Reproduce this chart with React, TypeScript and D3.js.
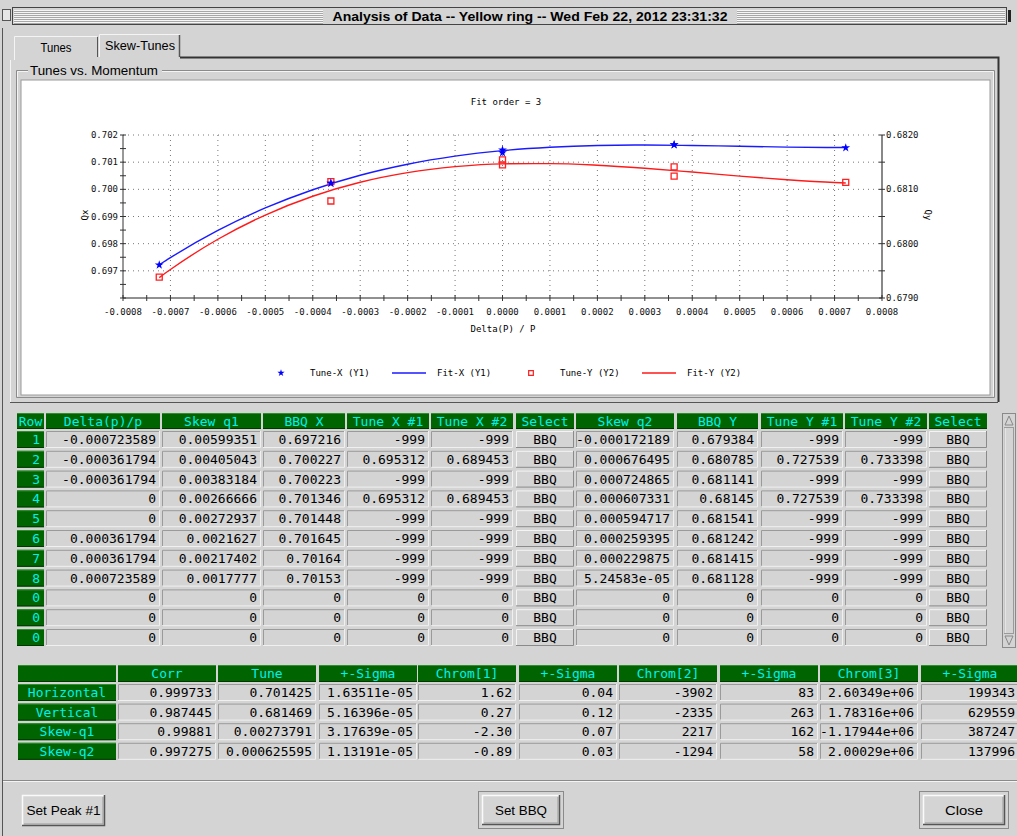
import { useEffect } from 'react';
import * as d3 from 'd3';

const W = 1017;
const H = 836;
const BG = '#d4d4d4';
const GREEN = '#006400';
const CYAN = '#00f0f0';
const MONO = '"DejaVu Sans Mono", "Liberation Mono", monospace';
const SANS = '"Liberation Sans", Arial, sans-serif';

// ---- scan table (rows 1..8 measured, three empty rows) ----
const rowLabels = ['1', '2', '3', '4', '5', '6', '7', '8', '0', '0', '0'];
const deltaP = [-0.000723589, -0.000361794, -0.000361794, 0, 0, 0.000361794, 0.000361794, 0.000723589, 0, 0, 0];
const skewQ1 = [0.00599351, 0.00405043, 0.00383184, 0.00266666, 0.00272937, 0.0021627, 0.00217402, 0.0017777, 0, 0, 0];
const bbqX = [0.697216, 0.700227, 0.700223, 0.701346, 0.701448, 0.701645, 0.70164, 0.70153, 0, 0, 0];
const tuneX1 = [-999, 0.695312, -999, 0.695312, -999, -999, -999, -999, 0, 0, 0];
const tuneX2 = [-999, 0.689453, -999, 0.689453, -999, -999, -999, -999, 0, 0, 0];
const skewQ2 = [-0.000172189, 0.000676495, 0.000724865, 0.000607331, 0.000594717, 0.000259395, 0.000229875, 5.24583e-5, 0, 0, 0];
const bbqY = [0.679384, 0.680785, 0.681141, 0.68145, 0.681541, 0.681242, 0.681415, 0.681128, 0, 0, 0];
const tuneY1 = [-999, 0.727539, -999, 0.727539, -999, -999, -999, -999, 0, 0, 0];
const tuneY2 = [-999, 0.733398, -999, 0.733398, -999, -999, -999, -999, 0, 0, 0];
const nMeasured = 8;

const scanHeaders = ['Row', 'Delta(p)/p', 'Skew q1', 'BBQ X', 'Tune X #1', 'Tune X #2', 'Select',
  'Skew q2', 'BBQ Y', 'Tune Y #1', 'Tune Y #2', 'Select'];

// ---- fit curves ----
const fitDelta = [-0.000723589, -0.0007, -0.0006, -0.0005, -0.0004, -0.0003, -0.0002, -0.0001, 0,
  0.0001, 0.0002, 0.0003, 0.0004, 0.0005, 0.0006, 0.0007, 0.000723589];
const fitX = [0.697224, 0.697486, 0.698486, 0.699314, 0.699986, 0.700518, 0.700924, 0.701221, 0.701425,
  0.701551, 0.701614, 0.70163, 0.701615, 0.701585, 0.701555, 0.70154, 0.70154];
const fitY = [0.679375, 0.679524, 0.680081, 0.680527, 0.680873, 0.68113, 0.681307, 0.681417, 0.681469,
  0.681474, 0.681444, 0.681388, 0.681318, 0.681243, 0.681176, 0.681125, 0.681117];

// ---- axes ----
const xTicks = [-0.0008, -0.0007, -0.0006, -0.0005, -0.0004, -0.0003, -0.0002, -0.0001, 0,
  0.0001, 0.0002, 0.0003, 0.0004, 0.0005, 0.0006, 0.0007, 0.0008];
const y1Ticks = [0.697, 0.698, 0.699, 0.7, 0.701, 0.702];
const y2Ticks = [0.679, 0.68, 0.681, 0.682];

// ---- fit results table ----
const fitHeaders = ['', 'Corr', 'Tune', '+-Sigma', 'Chrom[1]', '+-Sigma', 'Chrom[2]', '+-Sigma', 'Chrom[3]', '+-Sigma'];
const fitRows = ['Horizontal', 'Vertical', 'Skew-q1', 'Skew-q2'];
const fitCorr = [0.999733, 0.987445, 0.99881, 0.997275];
const fitTune = [0.701425, 0.681469, 0.00273791, 0.000625595];
const fitTuneSigma = [1.63511e-5, 5.16396e-5, 3.17639e-5, 1.13191e-5];
const chrom1 = [1.62, 0.27, -2.3, -0.89];
const chrom1Sigma = [0.04, 0.12, 0.07, 0.03];
const chrom2 = [-3902, -2335, 2217, -1294];
const chrom2Sigma = [83, 263, 162, 58];
const chrom3 = [2.60349e6, 1.78316e6, -1.17944e6, 2.00029e6];
const chrom3Sigma = [199343, 629559, 387247, 137996];

// printf("%g")
const fmtG = (v: number) => {
  if (v === 0) return '0';
  const e = Math.floor(Math.log10(Math.abs(v)));
  if (e < -4 || e >= 6) {
    const [m, ex] = v.toExponential(5).split('e');
    const mm = m.includes('.') ? m.replace(/0+$/, '').replace(/\.$/, '') : m;
    const n = parseInt(ex, 10);
    return `${mm}e${n < 0 ? '-' : '+'}${String(Math.abs(n)).padStart(2, '0')}`;
  }
  let s = v.toPrecision(6);
  if (s.includes('.')) s = s.replace(/0+$/, '').replace(/\.$/, '');
  return s;
};
const f2 = (v: number) => v.toFixed(2);
const f0 = (v: number) => v.toFixed(0);

type CellKind = 'head' | 'label' | 'data' | 'button';

const Cell = ({ x, y, w, h, text, kind, align = 'end' }: {
  x: number; y: number; w: number; h: number; text: string; kind: CellKind; align?: 'end' | 'middle';
}) => {
  const green = kind === 'head' || kind === 'label';
  const tx = align === 'middle' ? x + w / 2 : x + w - 4;
  return (
    <g>
      <rect x={x} y={y} width={w} height={h} fill={green ? GREEN : BG} />
      {green ? (
        <>
          <line x1={x} x2={x + w} y1={y + 0.5} y2={y + 0.5} stroke="#2f8f2f" />
          <line x1={x} x2={x + w} y1={y + h - 0.5} y2={y + h - 0.5} stroke="#003800" />
        </>
      ) : kind === 'button' ? (
        <>
          <path d={`M${x + 0.5},${y + h} V${y + 0.5} H${x + w}`} fill="none" stroke="#f4f4f4" />
          <path d={`M${x},${y + h - 0.5} H${x + w - 0.5} V${y}`} fill="none" stroke="#8a8a8a" />
        </>
      ) : (
        <>
          <path d={`M${x + 0.5},${y + h} V${y + 0.5} H${x + w}`} fill="none" stroke="#9a9a9a" />
          <path d={`M${x},${y + h - 0.5} H${x + w - 0.5} V${y}`} fill="none" stroke="#f0f0f0" />
        </>
      )}
      <text x={tx} y={y + h / 2 + 4.5} textAnchor={align} fontFamily={MONO} fontSize={13}
        fill={green ? CYAN : '#000'}>{text}</text>
    </g>
  );
};

const Button = ({ x, y, w, h, label, len, isDefault }: {
  x: number; y: number; w: number; h: number; label: string; len: number; isDefault?: boolean;
}) => (
  <g>
    {isDefault && (
      <rect x={x - 3.5} y={y - 3.5} width={w + 7} height={h + 7} fill="none" stroke="#8a8a8a" />
    )}
    <rect x={x} y={y} width={w} height={h} fill={BG} />
    <path d={`M${x + 0.5},${y + h} V${y + 0.5} H${x + w}`} fill="none" stroke="#fafafa" strokeWidth={1.5} />
    <path d={`M${x},${y + h - 0.5} H${x + w - 0.5} V${y}`} fill="none" stroke="#555" strokeWidth={1.5} />
    <path d={`M${x + 2},${y + h - 2} H${x + w - 2} V${y + 2}`} fill="none" stroke="#9a9a9a" />
    <text x={x + w / 2} y={y + h / 2 + 4.5} textAnchor="middle" fontFamily={SANS} fontSize={13}
      textLength={len} lengthAdjust="spacingAndGlyphs" fill="#000">{label}</text>
  </g>
);

const Chart = () => {
  const x = d3.scaleLinear().domain([-0.0008, 0.0008]).range([123, 882]);
  const y1 = d3.scaleLinear().domain([0.696, 0.702]).range([298, 135]);
  const y2 = d3.scaleLinear().domain([0.679, 0.682]).range([298, 135]);
  const [top, bottom] = [y1.range()[1], y1.range()[0]];
  const [left, right] = x.range();

  const fitXPath = d3.line<number>().x((_, i) => x(fitDelta[i])).y((d) => y1(d)).curve(d3.curveMonotoneX)(fitX) || '';
  const fitYPath = d3.line<number>().x((_, i) => x(fitDelta[i])).y((d) => y2(d)).curve(d3.curveMonotoneX)(fitY) || '';
  const star = d3.symbol().type(d3.symbolStar).size(24)() || '';
  const starSmall = d3.symbol().type(d3.symbolStar).size(16)() || '';
  const square = d3.symbol().type(d3.symbolSquare).size(36)() || '';

  const xMinor = d3.range(-0.0008, 0.00081, 0.00005);
  const y1Minor = d3.range(0.696, 0.70201, 0.0005);
  const y2Minor = d3.range(0.679, 0.68201, 0.0005);
  const pts = d3.range(nMeasured);

  return (
    <g>
      <text x={506} y={105} textAnchor="middle" fontFamily={MONO} fontSize={9} fill="#000">Fit order = 3</text>
      {/* grid */}
      {xTicks.slice(1, -1).map((t) => (
        <line key={`gx${t}`} x1={x(t)} x2={x(t)} y1={top} y2={bottom} stroke="#777" strokeDasharray="1,4" />
      ))}
      {y1Ticks.map((t) => (
        <line key={`gy${t}`} x1={left} x2={right} y1={y1(t)} y2={y1(t)} stroke="#777" strokeDasharray="1,4" />
      ))}
      {/* axes */}
      <line x1={left} x2={left} y1={top} y2={bottom} stroke="#333" />
      <line x1={right} x2={right} y1={top} y2={bottom} stroke="#888" strokeWidth={2} />
      <line x1={left} x2={right} y1={bottom} y2={bottom} stroke="#222" />
      {xMinor.map((t) => (
        <line key={`xt${t}`} x1={x(t)} x2={x(t)} y1={bottom - 3} y2={bottom + 3} stroke="#333" />
      ))}
      {y1Minor.map((t) => (
        <line key={`y1t${t}`} x1={left - 3} x2={left + 3} y1={y1(t)} y2={y1(t)} stroke="#333" />
      ))}
      {y2Minor.map((t) => (
        <line key={`y2t${t}`} x1={right - 3} x2={right + 3} y1={y2(t)} y2={y2(t)} stroke="#333" />
      ))}
      {xTicks.map((t) => (
        <text key={`xl${t}`} x={x(t)} y={bottom + 17} textAnchor="middle" fontFamily={MONO} fontSize={9} fill="#111">
          {t.toFixed(4)}
        </text>
      ))}
      {y1Ticks.map((t) => (
        <text key={`y1l${t}`} x={left - 5} y={y1(t) + 3} textAnchor="end" fontFamily={MONO} fontSize={9} fill="#111">
          {t.toFixed(3)}
        </text>
      ))}
      {y2Ticks.map((t) => (
        <text key={`y2l${t}`} x={right + 4} y={y2(t) + 3} fontFamily={MONO} fontSize={9} fill="#111">
          {t.toFixed(4)}
        </text>
      ))}
      <text x={503} y={332} textAnchor="middle" fontFamily={MONO} fontSize={9} fill="#000">Delta(P) / P</text>
      <text transform="translate(88,215) rotate(-90)" textAnchor="middle" fontFamily={MONO} fontSize={9} fill="#000">Qx</text>
      <text transform="translate(925,215) rotate(90)" textAnchor="middle" fontFamily={MONO} fontSize={9} fill="#000">Qy</text>

      {/* fits and measurements */}
      <path d={fitYPath} fill="none" stroke="#ff1a1a" strokeWidth={1.4} />
      <path d={fitXPath} fill="none" stroke="#1a1aff" strokeWidth={1.4} />
      {pts.map((i) => (
        <path key={`sq${i}`} d={square} transform={`translate(${x(deltaP[i])},${y2(bbqY[i])})`}
          fill="none" stroke="#ff2020" strokeWidth={1.3} />
      ))}
      {pts.map((i) => (
        <path key={`st${i}`} d={star} transform={`translate(${x(deltaP[i])},${y1(bbqX[i])})`} fill="#0000ff" />
      ))}

      {/* legend */}
      <path d={starSmall} transform="translate(281,373)" fill="#0000ff" />
      <text x={310} y={376} fontFamily={MONO} fontSize={9} fill="#000">Tune-X (Y1)</text>
      <line x1={392} x2={426} y1={373} y2={373} stroke="#1a1aff" strokeWidth={1.4} />
      <text x={437} y={376} fontFamily={MONO} fontSize={9} fill="#000">Fit-X (Y1)</text>
      <path d={d3.symbol().type(d3.symbolSquare).size(22)() || ''} transform="translate(531,373)"
        fill="none" stroke="#ff2020" strokeWidth={1.2} />
      <text x={560} y={376} fontFamily={MONO} fontSize={9} fill="#000">Tune-Y (Y2)</text>
      <line x1={642} x2={676} y1={373} y2={373} stroke="#ff1a1a" strokeWidth={1.4} />
      <text x={687} y={376} fontFamily={MONO} fontSize={9} fill="#000">Fit-Y (Y2)</text>
    </g>
  );
};

const scanCols = [
  { x: 17, w: 27 }, { x: 46, w: 114 }, { x: 162, w: 99 }, { x: 263, w: 82 }, { x: 347, w: 82 },
  { x: 431, w: 82 }, { x: 516, w: 58 }, { x: 576, w: 98 }, { x: 677, w: 81 }, { x: 761, w: 82 },
  { x: 845, w: 82 }, { x: 929, w: 58 },
];
const fitCols = [18, 118, 218, 319, 418, 519, 619, 720, 820, 921];

const ScanTable = () => {
  const cols = [deltaP, skewQ1, bbqX, tuneX1, tuneX2, null, skewQ2, bbqY, tuneY1, tuneY2, null];
  const rowY = (i: number) => 431 + i * 19.8;
  return (
    <g>
      {scanHeaders.map((hd, c) => (
        <Cell key={`h${c}`} x={scanCols[c].x} y={413} w={scanCols[c].w} h={16} text={hd} kind="head" align="middle" />
      ))}
      {rowLabels.map((lab, r) => (
        <g key={`r${r}`}>
          <Cell x={scanCols[0].x} y={rowY(r)} w={scanCols[0].w} h={17} text={lab} kind="label" />
          {cols.map((col, c) => {
            const cc = scanCols[c + 1];
            return col ? (
              <Cell key={c} x={cc.x} y={rowY(r)} w={cc.w} h={17} text={fmtG(col[r])} kind="data" />
            ) : (
              <Cell key={c} x={cc.x} y={rowY(r)} w={cc.w} h={17} text="BBQ" kind="button" align="middle" />
            );
          })}
        </g>
      ))}
      {/* scrollbar */}
      <rect x={1002.5} y={413.5} width={13} height={234} fill={BG} stroke="#8a8a8a" />
      <rect x={1004.5} y={427.5} width={9} height={206} fill={BG} stroke="#9a9a9a" />
      <line x1={1005} x2={1005} y1={428} y2={633} stroke="#f4f4f4" />
      <path d="M1005,425 L1009,416 L1013,425 Z" fill="none" stroke="#888" />
      <path d="M1005,636 L1009,645 L1013,636 Z" fill="none" stroke="#888" />
    </g>
  );
};

const FitTable = () => {
  const cols = [fitCorr, fitTune, fitTuneSigma, chrom1, chrom1Sigma, chrom2, chrom2Sigma, chrom3, chrom3Sigma];
  const fmts = [fmtG, fmtG, fmtG, f2, f2, f0, f0, fmtG, f0];
  const rowY = (i: number) => 684 + i * 19.6;
  return (
    <g>
      {fitHeaders.map((hd, c) => (
        <Cell key={`fh${c}`} x={fitCols[c]} y={665} w={98} h={17} text={hd} kind="head" align="middle" />
      ))}
      {fitRows.map((lab, r) => (
        <g key={`fr${r}`}>
          <Cell x={fitCols[0]} y={rowY(r)} w={98} h={17} text={lab} kind="label" align="middle" />
          {cols.map((col, c) => (
            <Cell key={c} x={fitCols[c + 1]} y={rowY(r)} w={98} h={17} text={fmts[c](col[r])} kind="data" />
          ))}
        </g>
      ))}
    </g>
  );
};

export default function App() {
  useEffect(() => {
    document.body.style.margin = '0';
  }, []);

  const stripes = d3.range(10, 24, 2);

  return (
    <div style={{ position: 'absolute', left: 0, top: 0 }}>
      <svg width={W} height={H} style={{ display: 'block' }}>
        <rect x={0} y={0} width={W} height={H} fill={BG} />

        {/* title bar */}
        <rect x={2.5} y={9.5} width={8} height={11} fill="#e6e6e6" stroke="#555" />
        <rect x={12.5} y={7.5} width={994} height={17} fill={BG} stroke="#444" />
        {stripes.map((s) => (
          <g key={s}>
            <line x1={14} x2={1005} y1={s + 0.5} y2={s + 0.5} stroke="#f6f6f6" />
            <line x1={14} x2={1005} y1={s + 1.5} y2={s + 1.5} stroke="#a8a8a8" />
          </g>
        ))}
        <rect x={323} y={9} width={414} height={15} fill={BG} />
        <text x={530} y={21} textAnchor="middle" fontFamily={SANS} fontWeight="bold" fontSize={13}
          textLength={395} lengthAdjust="spacingAndGlyphs" fill="#000">
          Analysis of Data -- Yellow ring -- Wed Feb 22, 2012 23:31:32
        </text>
        <rect x={1008} y={10} width={3} height={12} fill="#222" />
        <line x1={2.5} x2={2.5} y1={28} y2={H} stroke="#555" />

        {/* notebook tabs */}
        <path d="M99.5,57 V34.5 H179.5 V57" fill={BG} stroke="#f4f4f4" />
        <path d="M179.5,35 V57" stroke="#555" strokeWidth={1.5} />
        <text x={140} y={50} textAnchor="middle" fontFamily={SANS} fontSize={13} textLength={70}
          lengthAdjust="spacingAndGlyphs" fill="#000">Skew-Tunes</text>
        <path d="M180,57.5 H998.5 V402" fill="none" stroke="#333" strokeWidth={2} />
        <path d="M10.5,402 V60 M14.5,60 V36.5 H97" fill="none" stroke="#f4f4f4" />
        <path d="M97.5,37 V57" stroke="#555" />
        <path d="M10,402.5 H998" stroke="#555" />
        <text x={56} y={52} textAnchor="middle" fontFamily={SANS} fontSize={13} textLength={31}
          lengthAdjust="spacingAndGlyphs" fill="#000">Tunes</text>

        {/* group box */}
        <path d="M28,70.5 H16.5 V397.5 H994.5 V70.5 H162" fill="none" stroke="#8a8a8a" />
        <path d="M28,71.5 H17.5 V396.5 M993.5,396.5 V71.5 H162" fill="none" stroke="#f4f4f4" />
        <text x={30} y={75} fontFamily={SANS} fontSize={13} textLength={128}
          lengthAdjust="spacingAndGlyphs" fill="#000">Tunes vs. Momentum</text>
        <rect x={21} y={80} width={969} height={315} fill="#fff" stroke="#9a9a9a" />

        <Chart />
        <ScanTable />
        <FitTable />

        {/* button row */}
        <line x1={3} x2={W} y1={780.5} y2={780.5} stroke="#8a8a8a" />
        <line x1={3} x2={W} y1={781.5} y2={781.5} stroke="#f4f4f4" />
        <Button x={22} y={795} w={83} h={31} label="Set Peak #1" len={74} />
        <Button x={482} y={795} w={78} h={30} label="Set BBQ" len={52} isDefault />
        <Button x={923} y={795} w={82} h={30} label="Close" len={38} isDefault />
      </svg>
    </div>
  );
}
